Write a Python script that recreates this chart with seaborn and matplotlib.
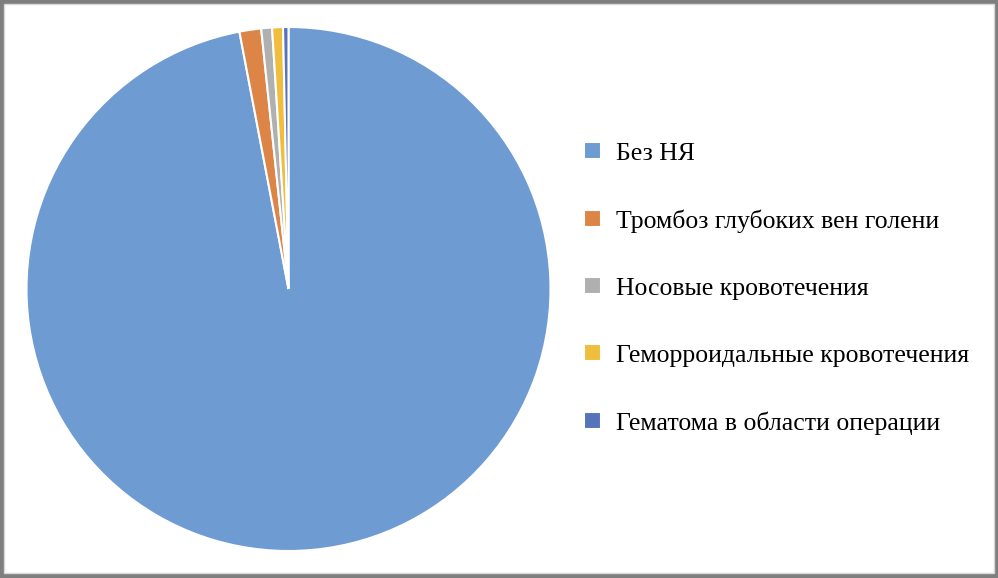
import matplotlib
matplotlib.use("Agg")
import matplotlib.pyplot as plt
import seaborn as sns
from matplotlib.patches import Rectangle

# Data: number of patients per outcome
categories = [
    "Без НЯ",
    "Тромбоз глубоких вен голени",
    "Носовые кровотечения",
    "Геморроидальные кровотечения",
    "Гематома в области операции",
]
counts = [291, 4, 2, 2, 1]
colors = ["#6E9BD2", "#DD8447", "#B0B0B0", "#F0BE3C", "#5574B9"]

sns.set_theme(style="white")
plt.rcParams["font.family"] = ["Liberation Serif", "DejaVu Serif"]

W, H = 998, 578
fig = plt.figure(figsize=(W / 100, H / 100), dpi=100)
fig.patch.set_facecolor("#7F7F7F")

# white chart area with thin light frame
fig.patches.append(Rectangle((4 / W, 5 / H), 990 / W, 569 / H,
                             transform=fig.transFigure, facecolor="white",
                             edgecolor="#D9D9D9", linewidth=1.0, zorder=-1))

# pie axes: centre (288.5, 289), radius 262 px
cx, cy, r = 288.5, 289, 262
ax = fig.add_axes([(cx - r) / W, (H - cy - r) / H, 2 * r / W, 2 * r / H])
ax.set_zorder(1)
wedges, _ = ax.pie(
    counts,
    colors=colors,
    startangle=90,
    counterclock=False,
    wedgeprops=dict(edgecolor="white", linewidth=1.5),
)
ax.set_xlim(-1, 1)
ax.set_ylim(-1, 1)
ax.set_aspect("equal")
ax.axis("off")

leg = fig.legend(
    wedges, categories,
    loc="upper left",
    bbox_to_anchor=(561 / W, 1 - 119 / H),
    frameon=False,
    fontsize=18.5,
    handlelength=0.64,
    handleheight=0.64,
    handletextpad=0.62,
    labelspacing=1.73,
    labelcolor="black",
)
leg.set_zorder(2)

fig.savefig("out.png", dpi=100, facecolor=fig.get_facecolor())
